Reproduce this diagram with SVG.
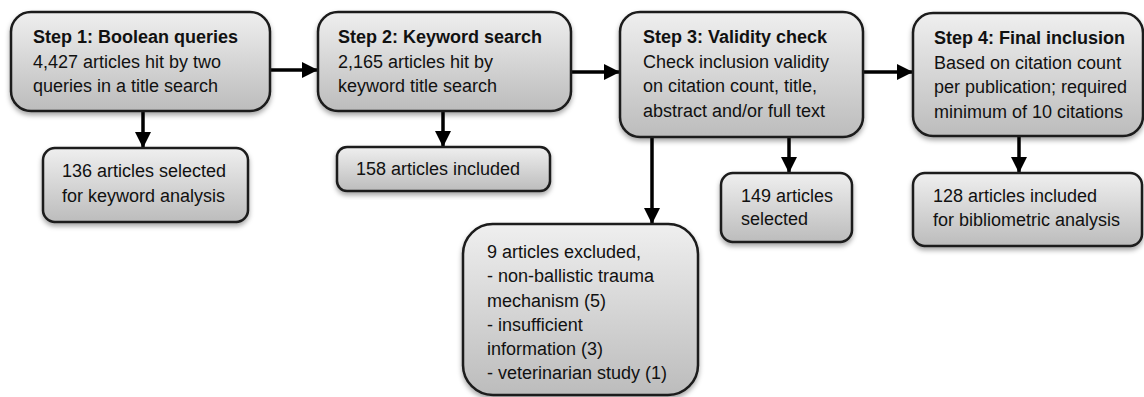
<svg xmlns="http://www.w3.org/2000/svg" width="1144" height="397" viewBox="0 0 1144 397">
<defs>
<linearGradient id="g" x1="0" y1="0" x2="0" y2="1">
<stop offset="0" stop-color="#efefef"/>
<stop offset="1" stop-color="#bcbcbc"/>
</linearGradient>
<filter id="sh" x="-10%" y="-10%" width="120%" height="130%">
<feDropShadow dx="0" dy="3" stdDeviation="2.5" flood-color="#000" flood-opacity="0.35"/>
</filter>
<marker id="ah" viewBox="0 0 10 10" refX="10" refY="5" markerWidth="4.6" markerHeight="5" markerUnits="strokeWidth" orient="auto">
<path d="M0,0 L10,5 L0,10 Z" fill="#000"/>
</marker>
<style>
.box{fill:url(#g);stroke:#1a1a1a;stroke-width:2.5;filter:url(#sh)}
.t{font-family:"Liberation Sans",Arial,sans-serif;font-size:18px;fill:#111}
.b{font-weight:bold}
.c{stroke:#000;stroke-width:3.5;fill:none;marker-end:url(#ah)}
</style>
</defs>
<g id="connectors">
<line class="c" x1="270" y1="70" x2="318" y2="70"/>
<line class="c" x1="571" y1="72" x2="620" y2="72"/>
<line class="c" x1="863" y1="72" x2="913" y2="72"/>
<line class="c" x1="143" y1="111" x2="143" y2="148"/>
<line class="c" x1="443" y1="111" x2="443" y2="147"/>
<line class="c" x1="652" y1="137" x2="652" y2="224"/>
<line class="c" x1="789" y1="137" x2="789" y2="173"/>
<line class="c" x1="1019" y1="136" x2="1019" y2="173"/>
</g>
<g id="step1">
<rect class="box" x="11" y="12" width="259" height="99" rx="20"/>
<text class="t b" x="33" y="43">Step 1: Boolean queries</text>
<text class="t" x="33" y="67.5">4,427 articles hit by two</text>
<text class="t" x="33" y="92">queries in a title search</text>
</g>
<g id="step2">
<rect class="box" x="318" y="12" width="253" height="99" rx="20"/>
<text class="t b" x="338" y="43">Step 2: Keyword search</text>
<text class="t" x="338" y="67.5">2,165 articles hit by</text>
<text class="t" x="338" y="92">keyword title search</text>
</g>
<g id="step3">
<rect class="box" x="620" y="12" width="243" height="125" rx="20"/>
<text class="t b" x="643" y="43">Step 3: Validity check</text>
<text class="t" x="643" y="67.5">Check inclusion validity</text>
<text class="t" x="643" y="92">on citation count, title,</text>
<text class="t" x="643" y="116.5">abstract and/or full text</text>
</g>
<g id="step4">
<rect class="box" x="913" y="13" width="230" height="123" rx="20"/>
<text class="t b" x="934" y="44">Step 4: Final inclusion</text>
<text class="t" x="934" y="68.5">Based on citation count</text>
<text class="t" x="934" y="93">per publication; required</text>
<text class="t" x="934" y="117.5">minimum of 10 citations</text>
</g>
<g id="res1">
<rect class="box" x="43" y="148" width="205" height="74" rx="12"/>
<text class="t" x="62" y="177">136 articles selected</text>
<text class="t" x="62" y="202">for keyword analysis</text>
</g>
<g id="res2">
<rect class="box" x="337" y="147" width="213" height="44" rx="10"/>
<text class="t" x="356" y="175">158 articles included</text>
</g>
<g id="excluded">
<rect class="box" x="463" y="224" width="235" height="171" rx="30"/>
<text class="t" x="487" y="258">9 articles excluded,</text>
<text class="t" x="487" y="282">- non-ballistic trauma</text>
<text class="t" x="487" y="306.5">mechanism (5)</text>
<text class="t" x="487" y="330.5">- insufficient</text>
<text class="t" x="487" y="355">information (3)</text>
<text class="t" x="487" y="379">- veterinarian study (1)</text>
</g>
<g id="res3">
<rect class="box" x="721" y="173" width="131" height="69" rx="12"/>
<text class="t" x="741" y="202">149 articles</text>
<text class="t" x="741" y="225">selected</text>
</g>
<g id="res4">
<rect class="box" x="913" y="173" width="229" height="73" rx="12"/>
<text class="t" x="933" y="202">128 articles included</text>
<text class="t" x="933" y="226">for bibliometric analysis</text>
</g>
</svg>
